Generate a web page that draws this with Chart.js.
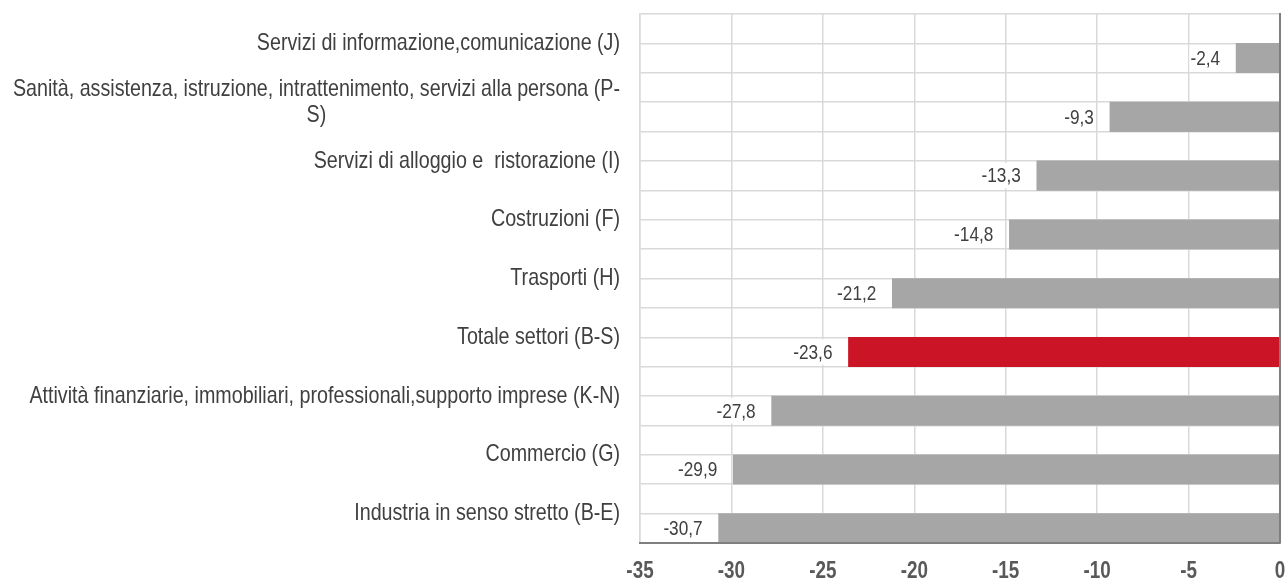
<!DOCTYPE html>
<html><head><meta charset="utf-8">
<script src="https://cdn.jsdelivr.net/npm/chart.js@4.4.0/dist/chart.umd.min.js"></script>
<style>html,body{margin:0;padding:0;background:#fff}</style>
</head><body>
<canvas id="c" width="1287" height="583"></canvas>
<script>
const categories = [
  ['Servizi di informazione,comunicazione (J)'],
  ['Sanità, assistenza, istruzione, intrattenimento, servizi alla persona (P-', 'S)'],
  ['Servizi di alloggio e  ristorazione (I)'],
  ['Costruzioni (F)'],
  ['Trasporti (H)'],
  ['Totale settori (B-S)'],
  ['Attività finanziarie, immobiliari, professionali,supporto imprese (K-N)'],
  ['Commercio (G)'],
  ['Industria in senso stretto (B-E)']
];
const values = [-2.4, -9.3, -13.3, -14.8, -21.2, -23.6, -27.8, -29.9, -30.7];
const highlightIndex = 5;
const xTicks = [-35, -30, -25, -20, -15, -10, -5, 0];

const FONT = '"Liberation Sans", Arial, sans-serif';
const NARROW = 0.82;   // emulate a condensed face
const fmt = v => v.toFixed(1).replace('.', ',');

function narrowText(ctx, text, x, y, align) {
  ctx.save();
  ctx.translate(x, y);
  ctx.scale(NARROW, 1);
  ctx.textAlign = align;
  ctx.fillText(text, 0, 0);
  ctx.restore();
}

const valueLabels = {
  id: 'valueLabels',
  afterDatasetsDraw(chart) {
    const meta = chart.getDatasetMeta(1);
    const ctx = chart.ctx;
    ctx.save();
    ctx.font = '21px ' + FONT;
    ctx.textBaseline = 'middle';
    meta.data.forEach((bar, i) => {
      const t = fmt(values[i]);
      const w = ctx.measureText(t).width * NARROW;
      const x = bar.x - 16;
      ctx.fillStyle = '#ffffff';
      ctx.fillRect(x - w - 1, bar.y - bar.height / 2 + 2, w + 2, bar.height - 4);
      ctx.fillStyle = '#404040';
      narrowText(ctx, t, x, bar.y + 1, 'right');
    });
    ctx.restore();
  }
};

const axisLabels = {
  id: 'axisLabels',
  afterDraw(chart) {
    const ys = chart.scales.y;
    const xs = chart.scales.x;
    const ctx = chart.ctx;
    ctx.save();
    ctx.font = '24px ' + FONT;
    ctx.fillStyle = '#404040';
    ctx.textBaseline = 'middle';
    const right = ys.right - 20;
    const lh = 26;
    categories.forEach((lines, i) => {
      const cy = ys.getPixelForValue(i);
      const maxW = Math.max(...lines.map(l => ctx.measureText(l).width)) * NARROW;
      lines.forEach((l, j) => {
        const y = cy + (j - (lines.length - 1) / 2) * lh;
        narrowText(ctx, l, right - maxW / 2, y, 'center');
      });
    });
    ctx.font = 'bold 23px ' + FONT;
    ctx.fillStyle = '#595959';
    xs.ticks.forEach(t => {
      narrowText(ctx, String(t.value), xs.getPixelForValue(t.value), xs.top + 29, 'center');
    });
    ctx.restore();
  }
};

new Chart(document.getElementById('c'), {
  type: 'bar',
  data: {
    labels: categories,
    datasets: [
      { data: values.map(() => null), backgroundColor: '#a6a6a6' },
      {
        data: values,
        backgroundColor: values.map((v, i) => i === highlightIndex ? '#cb1527' : '#a6a6a6')
      }
    ]
  },
  options: {
    indexAxis: 'y',
    responsive: false,
    animation: false,
    devicePixelRatio: 1,
    categoryPercentage: 1,
    barPercentage: 1,
    layout: { padding: { top: 14, right: 7, left: 0, bottom: 0 } },
    plugins: { legend: { display: false }, tooltip: { enabled: false } },
    scales: {
      x: {
        type: 'linear',
        min: -35, max: 0,
        afterBuildTicks: s => { s.ticks = xTicks.map(v => ({ value: v })); },
        afterFit: s => { s.height = 40; s.paddingLeft = 0; s.paddingRight = 0; },
        grid: {
          color: c => (c.tick && c.tick.value === 0) ? '#7f7f7f' : '#d9d9d9',
          lineWidth: c => (c.tick && c.tick.value === 0) ? 2 : 1.5,
          drawTicks: false
        },
        border: { color: '#7f7f7f', width: 2, z: 1 },
        ticks: { display: false }
      },
      y: {
        type: 'category',
        offset: true,
        afterFit: s => { s.width = 640; },
        grid: { offset: true, color: '#d9d9d9', lineWidth: 1.5, drawTicks: false },
        border: { color: '#d9d9d9', width: 1.5 },
        ticks: { display: false }
      },
      y2: {
        type: 'category',
        position: 'right',
        offset: true,
        afterFit: s => { s.width = 0; },
        grid: { offset: false, color: '#d9d9d9', lineWidth: 1.5, drawTicks: false },
        border: { color: '#7f7f7f', width: 2, z: 1 },
        ticks: { display: false }
      }
    }
  },
  plugins: [valueLabels, axisLabels]
});
</script>
</body></html>
